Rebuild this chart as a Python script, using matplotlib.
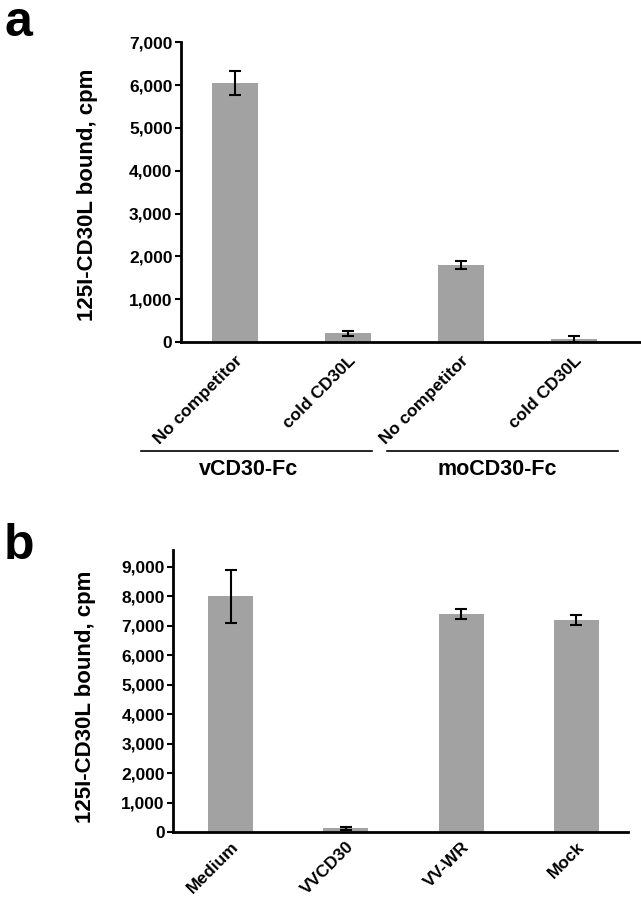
import matplotlib
matplotlib.use("Agg")
import matplotlib.pyplot as plt
from matplotlib.ticker import FuncFormatter

plt.rcParams['font.family'] = ['Liberation Sans', 'DejaVu Sans']
plt.rcParams['font.weight'] = 'bold'

# Panel a data
a_categories = ["No competitor", "cold CD30L", "No competitor", "cold CD30L"]
a_values = [6050, 200, 1800, 70]
a_errors = [290, 50, 100, 60]
a_groups = ["vCD30-Fc", "moCD30-Fc"]
a_yticks = [0, 1000, 2000, 3000, 4000, 5000, 6000, 7000]

# Panel b data
b_categories = ["Medium", "VVCD30", "VV-WR", "Mock"]
b_values = [8000, 120, 7400, 7200]
b_errors = [900, 60, 180, 180]
b_yticks = [0, 1000, 2000, 3000, 4000, 5000, 6000, 7000, 8000, 9000]

bar_color = '#a2a2a2'
ylabel = '125I-CD30L bound, cpm'
fmt = FuncFormatter(lambda v, p: f"{int(v):,}")

fig = plt.figure(figsize=(6.41, 8.99), dpi=100)

def style(ax):
    for s in ['top', 'right']:
        ax.spines[s].set_visible(False)
    ax.spines['left'].set_linewidth(2)
    ax.spines['bottom'].set_linewidth(2)
    ax.tick_params(axis='y', direction='out', length=4, width=1.5, labelsize=12.5, pad=2)
    ax.tick_params(axis='x', length=0)
    ax.yaxis.set_major_formatter(fmt)
    for t in ax.get_yticklabels():
        t.set_fontweight('bold')

# Panel a
ax1 = fig.add_axes([0.282, 0.6196, 0.716, 0.3334])
x = range(len(a_categories))
ax1.bar(x, a_values, width=0.41, color=bar_color, yerr=a_errors,
        error_kw=dict(ecolor='black', elinewidth=1.5, capsize=4, capthick=1.5))
ax1.set_xlim(-0.48, 3.58)
ax1.set_ylim(0, 7000)
ax1.set_yticks(a_yticks)
style(ax1)
ax1.set_xticks(list(x))
ax1.set_xticklabels(a_categories, rotation=45, ha='right', va='top',
                    rotation_mode='anchor', fontsize=12.5, fontweight='bold')
ax1.tick_params(axis='x', pad=8)
fig.text(87 / 641, 1 - 195 / 899, ylabel, rotation=90, ha='center', va='center',
         fontsize=16, fontweight='bold')

# group lines and labels (figure coordinates)
for (x0, x1, xc), name in zip([(141, 372, 249), (387, 618, 497)], a_groups):
    fig.add_artist(plt.Line2D([x0 / 641, x1 / 641], [1 - 451 / 899] * 2,
                              color='black', lw=1.2))
    fig.text(xc / 641, 1 - 470 / 899, name, ha='center', va='center',
             fontsize=15.5, fontweight='bold')

# Panel b
ax2 = fig.add_axes([0.270, 0.0745, 0.71, 0.3135])
xb = range(len(b_categories))
ax2.bar(xb, b_values, width=0.39, color=bar_color, yerr=b_errors,
        error_kw=dict(ecolor='black', elinewidth=1.5, capsize=4, capthick=1.5))
ax2.set_xlim(-0.5, 3.45)
ax2.set_ylim(0, 9570)
ax2.set_yticks(b_yticks)
style(ax2)
ax2.set_xticks(list(xb))
ax2.set_xticklabels(b_categories, rotation=45, ha='right', va='top',
                    rotation_mode='anchor', fontsize=12.5, fontweight='bold')
ax2.tick_params(axis='x', pad=5)
fig.text(85 / 641, 1 - 697 / 899, ylabel, rotation=90, ha='center', va='center',
         fontsize=16, fontweight='bold')

fig.text(4 / 641, 1 - 36 / 899, 'a', fontsize=36, fontweight='bold', va='baseline', ha='left')
fig.text(4 / 641, 1 - 559 / 899, 'b', fontsize=36, fontweight='bold', va='baseline', ha='left')

fig.savefig('out.png', dpi=100)
